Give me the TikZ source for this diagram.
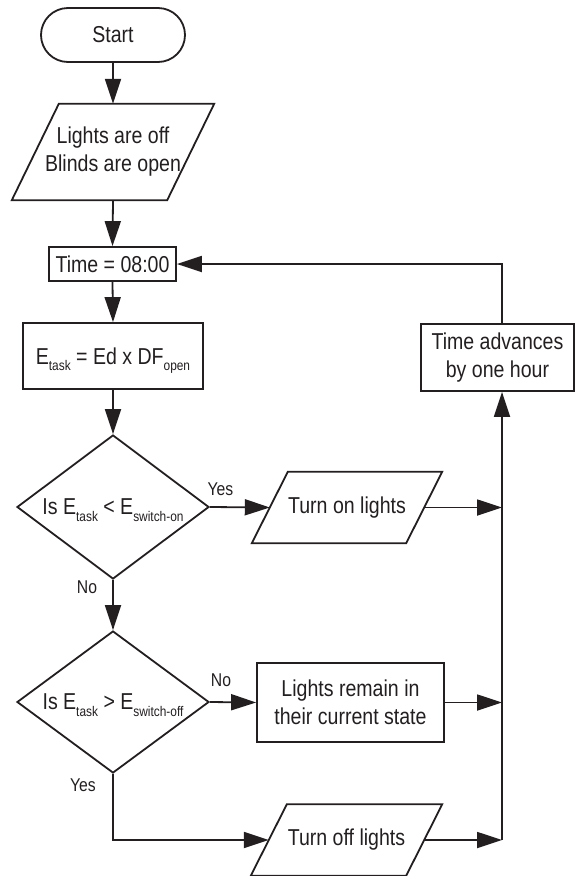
\documentclass[tikz,border=0pt]{standalone}
\usepackage{fontspec}
\setmainfont[FakeStretch=0.85]{Liberation Sans}
\usetikzlibrary{arrows.meta,shapes.geometric,calc}
\definecolor{ink}{HTML}{231F20}
% subscript that hangs below the baseline without changing the line box
\newcommand\lowsub[1]{\raisebox{-6.5pt}[0pt][0pt]{\fontsize{14}{14}\selectfont #1}}
\newcommand\mainsize{\fontsize{23}{28}\selectfont}
% slanted input/output outline around a text node; #2 is half the horizontal slant
\newcommand\ioshape[2]{%
  \draw[outline] ($(#1.north west)+(#2,0)$) -- ($(#1.north east)+(#2,0)$)
    -- ($(#1.south east)-(#2,0)$) -- ($(#1.south west)-(#2,0)$) -- cycle;}

\begin{document}
\begin{tikzpicture}[x=1pt,y=-1pt,
  every node/.style={text=ink},
  outline/.style={draw=ink, line width=1.8pt, line join=miter},
  box/.style={outline, rectangle, inner sep=0pt, align=center, font=\mainsize},
  term/.style={box, rounded corners=27pt},
  iotext/.style={rectangle, inner sep=0pt, align=center, font=\mainsize},
  dec/.style={outline, diamond, aspect=1.333, inner sep=0pt, font=\mainsize},
  arr/.style={draw=ink, line width=1.8pt, -{Triangle[length=25pt,width=16pt]}},
  lab/.style={font=\fontsize{18.5}{20}\selectfont, inner sep=0pt}]

\useasboundingbox (0,0) rectangle (576,876);

% main column
\node[term, minimum width=144pt, minimum height=54pt] (start) at (113,35) {Start};
\node[iotext, minimum width=155pt, minimum height=96pt] (init) at (113,152)
  {Lights are off\\Blinds are open};
\ioshape{init}{23.5}
\node[box, minimum width=127pt, minimum height=34pt] (time) at (112.5,264) {Time = 08:00};
\node[box, minimum width=180pt, minimum height=66pt] (etask) at (113,356)
  {E\lowsub{task} = Ed x DF\lowsub{open}};
\node[dec, minimum width=192pt, minimum height=144pt] (dOn) at (113,507)
  {Is E\lowsub{task} < E\lowsub{switch-on}};
\node[dec, minimum width=192pt, minimum height=142pt] (dOff) at (113,702)
  {Is E\lowsub{task} > E\lowsub{switch-off}};

% actions
\node[iotext, minimum width=154pt, minimum height=71pt] (on) at (347,507.5) {Turn on lights};
\ioshape{on}{18}
\node[box, minimum width=187pt, minimum height=79pt] (remain) at (350.5,702.5)
  {Lights remain in\\their current state};
\node[iotext, minimum width=155pt, minimum height=71pt] (off) at (346.5,840) {Turn off lights};
\ioshape{off}{18}
\node[box, minimum width=153pt, minimum height=67pt] (adv) at (497.5,357.5)
  {Time advances\\by one hour};

% return line
\coordinate (loop) at (502,840);
\coordinate (loopOn) at (502,507.5);
\coordinate (loopRemain) at (502,702.5);

% branch labels
\node[lab] (yesOn) at (220.5,489) {Yes};
\node[lab] (noOn) at (87,587.5) {No};
\node[lab] (noOff) at (221,680) {No};
\node[lab] (yesOff) at (83,785) {Yes};

% connectors
\draw[arr] (start.south) -- (init.north);
\draw[arr] (init.south) -- (time.north);
\draw[arr] (time.south) -- (etask.north);
\draw[arr] (etask.south) -- (dOn.north);
\draw[arr] (dOn.east) -- (on.west);
\draw[arr] (dOn.south) -- (dOff.north);
\draw[arr] (dOff.east) -- (remain.west);
\draw[arr] (dOff.south) |- (off.west);
\draw[arr] (on.east) -- (loopOn);
\draw[arr] (remain.east) -- (loopRemain);
\draw[arr] (off.east) -- (loop);
\draw[arr] (loop) -- (loop |- adv.south);
\draw[arr] (loop |- adv.north) |- (time.east);

\end{tikzpicture}
\end{document}
